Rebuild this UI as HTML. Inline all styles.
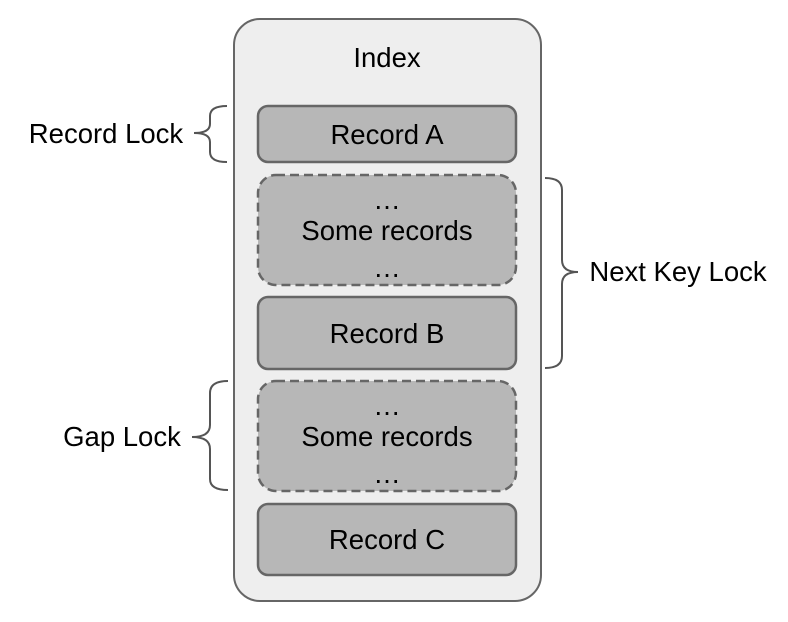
<!DOCTYPE html>
<html><head><style>body{margin:0;background:#fff}</style></head><body>
<svg width="788" height="617" xmlns="http://www.w3.org/2000/svg" font-family="Liberation Sans, sans-serif" font-size="27.5" text-anchor="middle" fill="#000">
<rect x="234" y="19" width="307" height="582" rx="26" fill="#eeeeee" stroke="#666" stroke-width="2"/>
<text x="387" y="67">Index</text>
<g fill="#b7b7b7" stroke="#666" stroke-width="2.5">
<rect x="258" y="106" width="258" height="56" rx="10"/>
<rect x="258" y="175" width="258" height="110" rx="18" stroke-dasharray="9 5"/>
<rect x="258" y="297" width="258" height="72" rx="10"/>
<rect x="258" y="381" width="258" height="110" rx="18" stroke-dasharray="9 5"/>
<rect x="258" y="504" width="258" height="71" rx="10"/>
</g>
<g fill="#000">
<text x="387" y="144">Record A</text>
<text x="387" y="209">…</text>
<text x="387" y="240">Some records</text>
<text x="387" y="277">…</text>
<text x="387" y="343">Record B</text>
<text x="387" y="415">…</text>
<text x="387" y="446">Some records</text>
<text x="387" y="483">…</text>
<text x="387" y="549">Record C</text>
</g>
<g fill="none" stroke="#555" stroke-width="2">
<path d="M227 106 Q210 106 210 116 L210 124 Q210 133 194 133 Q210 133 210 142 L210 152 Q210 162 227 162"/>
<path d="M545 178 Q562 178 562 190 L562 260 Q562 272 578 272 Q562 272 562 284 L562 356 Q562 368 545 368"/>
<path d="M228 381 Q210 381 210 393 L210 425 Q210 437 192 437 Q210 437 210 449 L210 479 Q210 490 228 490"/>
</g>
<text x="106" y="143">Record Lock</text>
<text x="678" y="281">Next Key Lock</text>
<text x="122" y="446">Gap Lock</text>
</svg>
</body></html>
